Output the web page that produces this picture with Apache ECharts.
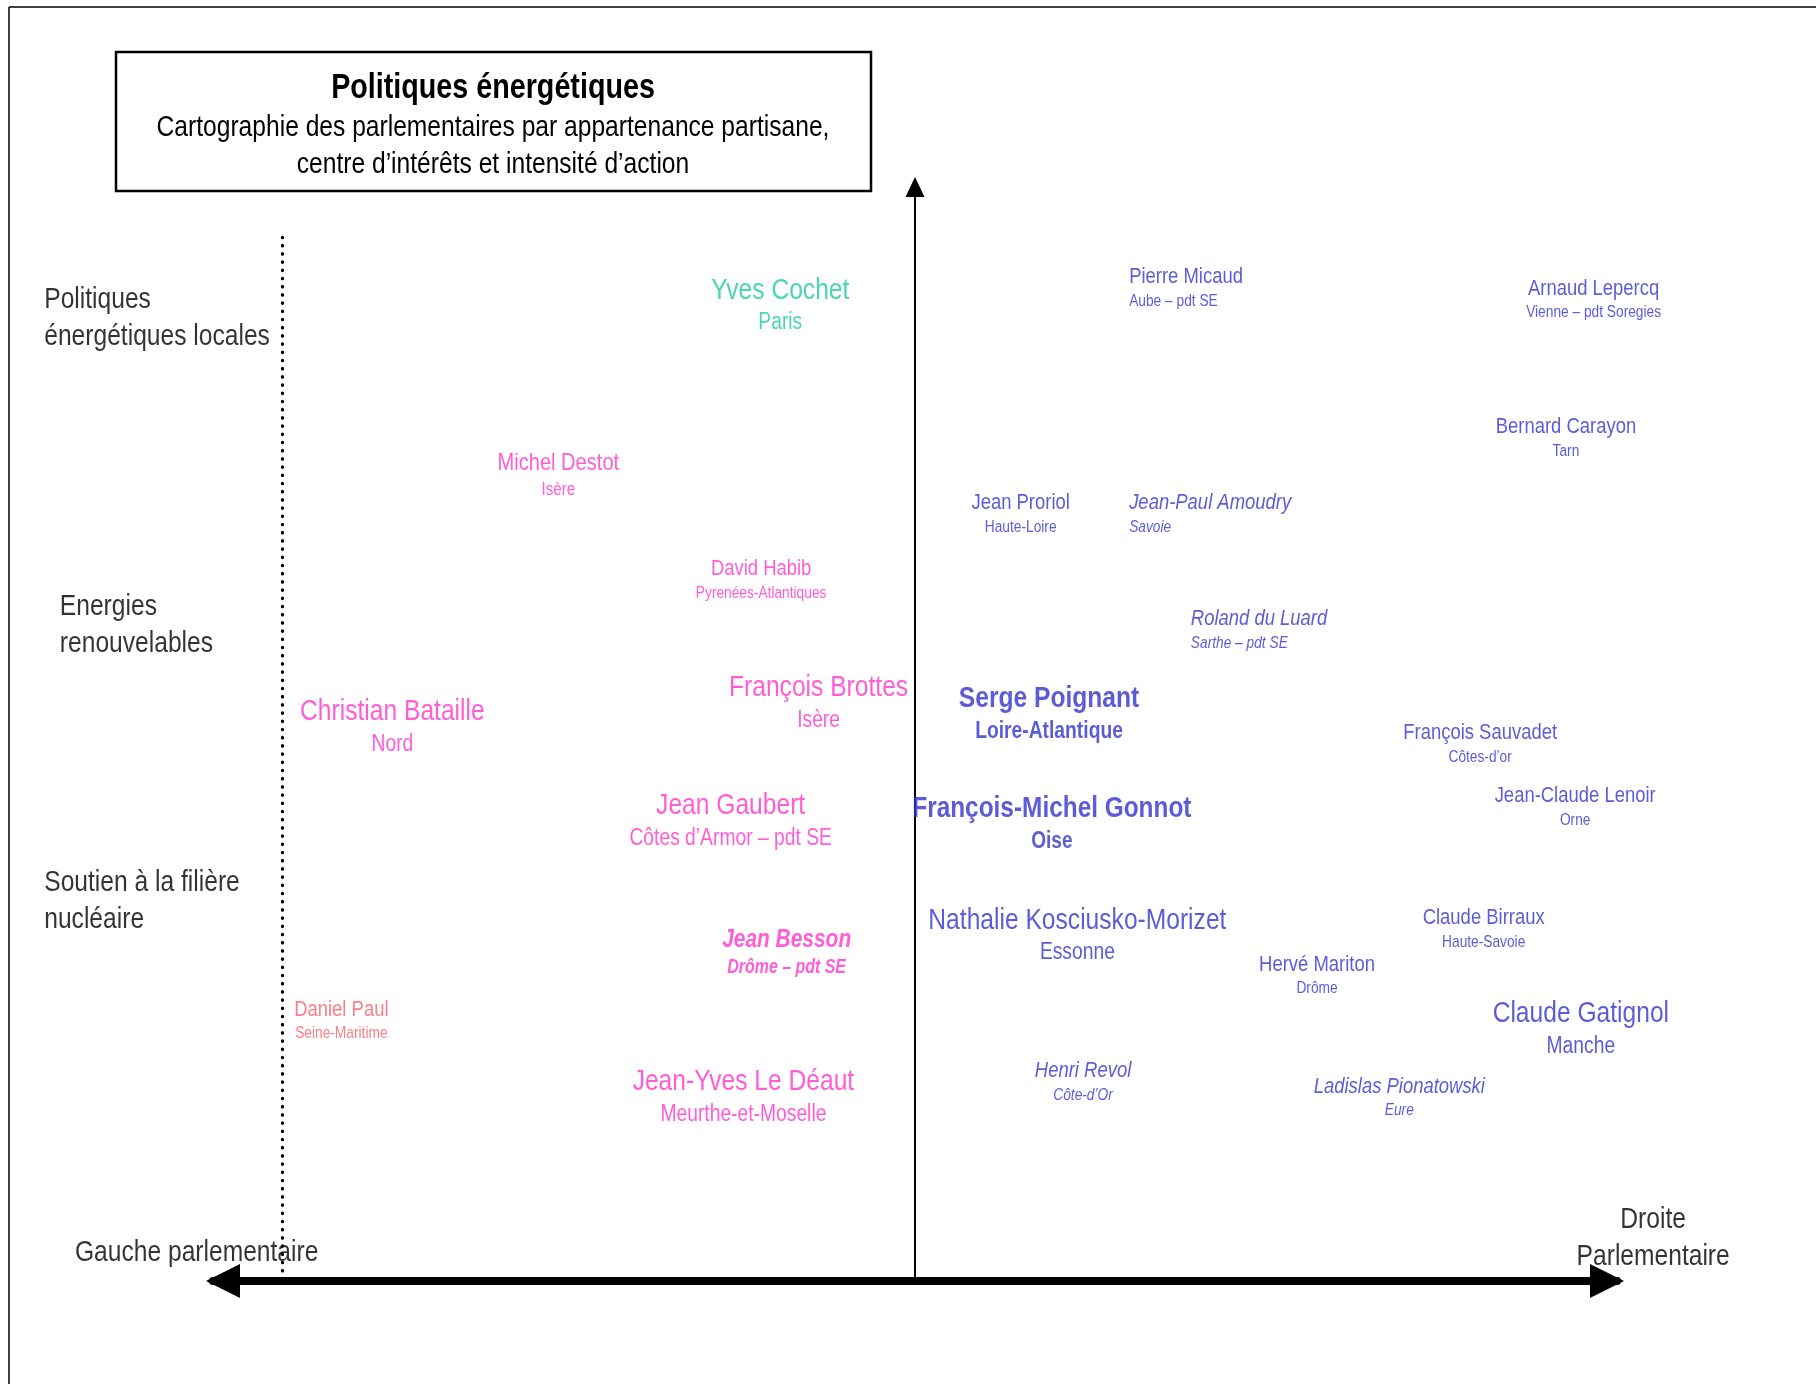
<!DOCTYPE html>
<html>
<head>
<meta charset="utf-8">
<script src="https://cdn.jsdelivr.net/npm/echarts@6/dist/echarts.min.js"></script>
<style>
  html, body { margin: 0; padding: 0; background: #ffffff; }
  #chart { width: 1816px; height: 1384px; }
</style>
</head>
<body>
<div id="chart"></div>
<script>
// ---------- DATA ----------
const names = [
  'Yves Cochet', 'Michel Destot', 'David Habib', 'François Brottes', 'Christian Bataille',
  'Jean Gaubert', 'Jean Besson', 'Jean-Yves Le Déaut', 'Daniel Paul',
  'Pierre Micaud', 'Arnaud Lepercq', 'Bernard Carayon', 'Jean Proriol', 'Jean-Paul Amoudry',
  'Roland du Luard', 'Serge Poignant', 'François Sauvadet', 'Jean-Claude Lenoir',
  'François-Michel Gonnot', 'Nathalie Kosciusko-Morizet', 'Claude Birraux', 'Hervé Mariton',
  'Claude Gatignol', 'Henri Revol', 'Ladislas Pionatowski'
];
const regions = [
  'Paris', 'Isère', 'Pyrenées-Atlantiques', 'Isère', 'Nord',
  'Côtes d\u2019Armor \u2013 pdt SE', 'Drôme \u2013 pdt SE', 'Meurthe-et-Moselle', 'Seine-Maritime',
  'Aube \u2013 pdt SE', 'Vienne \u2013 pdt Soregies', 'Tarn', 'Haute-Loire', 'Savoie',
  'Sarthe \u2013 pdt SE', 'Loire-Atlantique', 'Côtes-d\u2019or', 'Orne',
  'Oise', 'Essonne', 'Haute-Savoie', 'Drôme',
  'Manche', 'Côte-d\u2019Or', 'Eure'
];
const party = [
  'Verts', 'PS', 'PS', 'PS', 'PS',
  'PS', 'PS', 'PS', 'PCF',
  'UMP', 'UMP', 'UMP', 'UMP', 'UMP',
  'UMP', 'UMP', 'UMP', 'UMP',
  'UMP', 'UMP', 'UMP', 'UMP',
  'UMP', 'UMP', 'UMP'
];
// political position (left -100 … right +100)
const position = [
  -19.0, -50.3, -21.7, -13.6, -73.7,
  -26.0, -18.1, -24.2, -80.9,
  30.2, 95.7, 91.8, 14.9, 30.2,
  38.9, 18.9, 79.7, 93.1,
  19.3, 22.9, 80.2, 56.7,
  93.9, 23.7, 68.3
];
// centre of interest (0 nuclear … 100 local energy policies)
const interest = [
  90.1, 74.4, 64.8, 54.0, 51.8,
  43.3, 31.1, 18.2, 24.8,
  91.3, 90.3, 77.7, 70.8, 70.8,
  60.3, 53.0, 49.9, 44.2,
  43.0, 32.9, 33.1, 28.9,
  24.4, 19.2, 17.8
];
// intensity of action
const intensity = [
  3, 1.9, 1.5, 3, 3,
  3, 2.1, 3, 1.5,
  1.5, 1.5, 1.5, 1.5, 1.5,
  1.5, 3, 1.5, 1.5,
  2.95, 3, 1.5, 1.5,
  3, 1.5, 1.5
];
// senators (vs deputies)
const senator = [
  false, false, false, false, false,
  false, true, false, false,
  false, false, false, false, true,
  true, false, false, false,
  false, false, false, false,
  false, true, true
];
// key actors
const keyActor = [
  false, false, false, false, false,
  false, true, false, false,
  false, false, false, false, false,
  false, true, false, false,
  true, false, false, false,
  false, false, false
];

const themes = ['Politiques\nénergétiques locales', 'Energies\nrenouvelables', 'Soutien à la filière\nnucléaire'];
const themeInterest = [87.6, 59.7, 34.65];
const themePos = [-122.8, -120.6, -122.8];

const sides = ['Gauche parlementaire', 'Droite\nParlementaire'];
const sidePos = [-101.3, 104.1];
const sideInterest = [2.72, 4.04];

const separatorPos = -89.2;
const separatorRange = [0.6, 94.8];

// ---------- STYLE ----------
const FONT = "'Liberation Sans', Arial, sans-serif";
const CONDENSE = 0.82;
const partyColors = { 'PS': '#FF33CC', 'Verts': '#1ECC9C', 'PCF': '#FF5C68', 'UMP': '#3333CC' };
const leftAligned = ['Pierre Micaud', 'Jean-Paul Amoudry', 'Roland du Luard'];

const peopleData = names.map((n, i) => {
  const v = intensity[i];
  const nSize = 15 + 5 * v;
  const sSize = 10 + 4.5 * v;
  const gap = 16 + 5.5 * v;
  const ln = Math.round(nSize * 1.15);
  const ls = 2 * gap - ln;
  const col = partyColors[party[i]];
  const st = senator[i] ? 'italic' : 'normal';
  const wt = keyActor[i] ? 'bold' : 'normal';
  const left = leftAligned.indexOf(n) >= 0;
  return {
    value: [position[i], interest[i]],
    label: {
      show: true,
      position: 'inside',
      align: left ? 'left' : 'center',
      verticalAlign: 'middle',
      offset: [0, ls / 2 + 1.5],
      formatter: '{n|' + n + '}\n{s|' + regions[i] + '}',
      rich: {
        n: { fontFamily: FONT, fontSize: nSize, lineHeight: ln, color: col, fontStyle: st, fontWeight: wt, align: left ? 'left' : 'center' },
        s: { fontFamily: FONT, fontSize: sSize, lineHeight: ls, color: col, fontStyle: st, fontWeight: wt, align: left ? 'left' : 'center' }
      }
    }
  };
});

const themeData = themes.map((t, i) => ({
  value: [themePos[i], themeInterest[i]],
  label: { show: true, position: 'inside', align: 'left', verticalAlign: 'middle', formatter: t, offset: [0, 1.5],
    fontFamily: FONT, fontSize: 30, lineHeight: 37, color: '#000' }
}));
const sideData = sides.map((t, i) => ({
  value: [sidePos[i], sideInterest[i]],
  label: { show: true, position: 'inside', align: 'center', verticalAlign: 'middle', formatter: t, offset: [0, 1.5],
    fontFamily: FONT, fontSize: 30, lineHeight: 37, color: '#000' }
}));

const chart = echarts.init(document.getElementById('chart'), null, { renderer: 'canvas' });
chart.setOption({
  backgroundColor: '#ffffff',
  animation: false,
  grid: { left: 213, right: 199, top: 180, bottom: 103 },
  xAxis: {
    type: 'value', min: -99, max: 99,
    axisLine: { show: true, onZero: false, symbol: ['triangle', 'triangle'], symbolSize: [34, 34], symbolOffset: [10, -10],
      lineStyle: { color: '#000', width: 8 } },
    axisTick: { show: false }, axisLabel: { show: false }, splitLine: { show: false }
  },
  yAxis: {
    type: 'value', min: 0, max: 100,
    axisLine: { show: true, onZero: true, symbol: ['none', 'triangle'], symbolSize: [19, 20], symbolOffset: [0, -7],
      lineStyle: { color: '#000', width: 2 } },
    axisTick: { show: false }, axisLabel: { show: false }, splitLine: { show: false }
  },
  graphic: [
    { type: 'line', shape: { x1: 9, y1: 7, x2: 1816, y2: 7 }, style: { stroke: '#000', lineWidth: 1.5 } },
    { type: 'line', shape: { x1: 9, y1: 7, x2: 9, y2: 1384 }, style: { stroke: '#000', lineWidth: 1.5 } },
    { type: 'rect', shape: { x: 116, y: 52, width: 755, height: 139 }, style: { fill: '#fff', stroke: '#000', lineWidth: 2.5 } },
    { type: 'text', x: 493, y: 88, style: { text: 'Politiques énergétiques', font: 'bold 35px ' + FONT, fill: '#000', align: 'center', verticalAlign: 'middle' } },
    { type: 'text', x: 493, y: 128, style: { text: 'Cartographie des parlementaires par appartenance partisane,', font: '30px ' + FONT, fill: '#000', align: 'center', verticalAlign: 'middle' } },
    { type: 'text', x: 493, y: 165, style: { text: 'centre d\u2019intérêts et intensité d\u2019action', font: '30px ' + FONT, fill: '#000', align: 'center', verticalAlign: 'middle' } }
  ],
  series: [
    {
      type: 'line',
      data: [[separatorPos, separatorRange[1]], [separatorPos, separatorRange[0]]],
      symbol: 'none',
      lineStyle: { color: '#000', width: 3.2, type: [0.5, 7.7], cap: 'round' },
      silent: true
    },
    { type: 'scatter', data: peopleData, symbolSize: 1, itemStyle: { color: 'rgba(0,0,0,0)' }, clip: false, silent: true },
    { type: 'scatter', data: themeData, symbolSize: 1, itemStyle: { color: 'rgba(0,0,0,0)' }, clip: false, silent: true },
    { type: 'scatter', data: sideData, symbolSize: 1, itemStyle: { color: 'rgba(0,0,0,0)' }, clip: false, silent: true }
  ]
});

// The original uses a narrow typeface; emulate it by condensing every text run horizontally
(function condenseText() {
  const zr = chart.getZr();
  const list = zr.storage.getDisplayList(true);
  list.forEach(el => {
    if (el.type === 'tspan' || (el.style && typeof el.style.text === 'string' && el.parent)) {
      el.scaleX = CONDENSE;
      el.markRedraw();
    }
  });
  zr.refreshImmediately();
})();
</script>
</body>
</html>
